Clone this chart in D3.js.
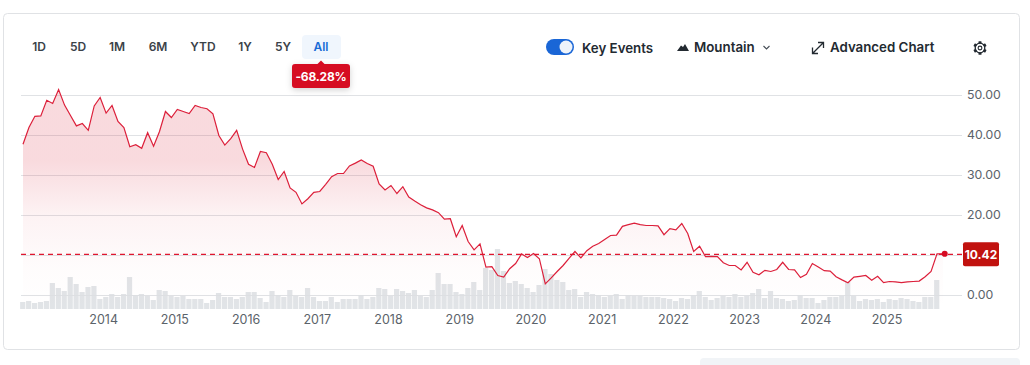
<!DOCTYPE html>
<html>
<head>
<meta charset="utf-8">
<script src="https://cdnjs.cloudflare.com/ajax/libs/d3/7.8.5/d3.min.js"></script>
<style>
  html, body { margin: 0; padding: 0; background: #fff; overflow: hidden; }
  svg { display: block; font-family: Inter, "Liberation Sans", sans-serif; }
</style>
</head>
<body>
<script>
// monthly closes
const closes = [
  37.8, 42, 44.8, 44.9, 48.8, 48, 51.5, 47.6, 45, 42.4,
  43, 41.3, 47.4, 49.5, 45.6, 47.5, 43.5, 42, 37.2, 37.7,
  36.8, 40.7, 37.3, 41, 46, 44.5, 46.5, 46, 45.5, 47.5,
  47, 46.7, 45.4, 40, 37.6, 39.2, 41.3, 36.6, 32.8, 32,
  36, 35.7, 32.8, 29, 31, 26.9, 25.8, 22.9, 24.2, 25.8,
  26, 27.8, 29.7, 30.5, 30.5, 32.4, 33.1, 33.9, 33, 32.3,
  27.9, 26.4, 27.5, 25.5, 27.2, 24.6, 23.6, 22.7, 21.9, 21.4,
  20.7, 19.1, 19.2, 14.7, 17.5, 13.5, 11.4, 12.9, 7.1, 7.2,
  5, 4.6, 6.7, 8, 10.4, 9.5, 10.5, 9.2, 2.9, 4.4,
  6, 7.5, 9.3, 11, 9.4, 11.2, 12.3, 13, 14, 15,
  15.1, 17.3, 17.7, 18.1, 17.7, 17.5, 17.5, 17.4, 15.2, 16.7,
  16.4, 18, 15.5, 11, 12.3, 9.7, 9.8, 9.7, 8.2, 7.5,
  7.5, 6.4, 8.3, 5.8, 5.2, 6.3, 6, 6.5, 8.3, 6.5,
  6.4, 4.5, 5.3, 8, 7.1, 6.2, 6.1, 4.7, 3.9, 3.2,
  4.6, 4.8, 5, 3.8, 4.8, 3.2, 3.5, 3.4, 3.2, 3.4,
  3.5, 3.6, 4.7, 6, 10.4, 10.42
];

const volumes = [
  7, 8, 6, 7, 8, 26, 21, 18, 32, 25,
  17, 22, 23, 10, 12, 15, 12, 15, 32, 14,
  15, 13, 9, 19, 18, 13, 12, 13, 10, 10,
  10, 6, 9, 16, 12, 12, 10, 12, 17, 17,
  11, 7, 18, 14, 12, 19, 13, 12, 21, 12,
  8, 8, 12, 7, 10, 10, 10, 14, 10, 12,
  21, 20, 13, 20, 18, 16, 19, 13, 12, 19,
  36, 25, 25, 17, 15, 21, 27, 19, 41, 39,
  60, 38, 26, 28, 25, 21, 17, 24, 40, 35,
  29, 27, 19, 20, 12, 17, 15, 14, 12, 13,
  15, 10, 14, 13, 13, 12, 12, 12, 11, 10,
  8, 11, 10, 14, 18, 12, 9, 11, 13, 12,
  15, 12, 13, 16, 20, 11, 18, 11, 10, 8,
  9, 14, 11, 11, 6, 9, 12, 12, 13, 27,
  13, 8, 10, 9, 10, 7, 10, 9, 11, 10,
  8, 7, 12, 12, 29
];

const priceTicks = [0, 10, 20, 30, 40, 50];
const priceLabels = [0, 20, 30, 40, 50]; // 10 sits behind the last price tag
const years = [2014, 2015, 2016, 2017, 2018, 2019, 2020, 2021, 2022, 2023, 2024, 2025];
const yearPos = [13.5, 25.5, 37.5, 49.5, 61.5, 73.5, 85.5, 97.5, 109.5, 121.5, 133.5, 145.5];
const ranges = ["1D", "5D", "1M", "6M", "YTD", "1Y", "5Y", "All"];
const rangeX = [39, 78, 117, 158, 203, 245, 283, 321];
const lastPrice = 10.42;
const lastPos = 155.3;
const change = "-68.28%";

const w = 1030;
const h = 365;

const x = d3.scaleLinear().domain([0, 154]).range([23, 937]);
const y = d3.scaleLinear().domain([0, 50]).range([295.5, 95.5]);
const yVol = d3.scaleLinear().domain([0, 60]).range([309, 249]);

const svg = d3.select("body").append("svg").attr("width", w).attr("height", h);

//card and the panel peeking in below it
svg.append("rect").attr("x", 3.5).attr("y", 13.5).attr("width", 1016).attr("height", 336)
  .attr("rx", 4).attr("fill", "#fff").attr("stroke", "#e0e2e5");
svg.append("rect").attr("x", 700).attr("y", 358).attr("width", 320).attr("height", 20)
  .attr("rx", 4).attr("fill", "#f1f4f7");

const defs = svg.append("defs");
const grad = defs.append("linearGradient").attr("id", "areaFill")
  .attr("gradientUnits", "userSpaceOnUse")
  .attr("x1", 0).attr("x2", 0).attr("y1", y(52)).attr("y2", yVol(0));
[[0, 0.15], [0.33, 0.15], [0.58, 0.05], [0.8, 0.015], [1, 0.0]].forEach((s) => {
  grad.append("stop").attr("offset", s[0]).attr("stop-color", "#d60a22").attr("stop-opacity", s[1]);
});
const blur = defs.append("filter").attr("id", "tagShadow")
  .attr("x", "-30%").attr("y", "-40%").attr("width", "160%").attr("height", "200%");
blur.append("feDropShadow").attr("dx", 0).attr("dy", 2).attr("stdDeviation", 3)
  .attr("flood-color", "#000").attr("flood-opacity", 0.18);

//grid lines
svg.append("g").selectAll("line").data(priceTicks).enter().append("line")
  .attr("x1", 21).attr("x2", 962)
  .attr("y1", (d) => Math.floor(y(d)) + 0.5)
  .attr("y2", (d) => Math.floor(y(d)) + 0.5)
  .attr("stroke", "#e0e2e5");

//volume
svg.append("g").selectAll("rect").data(volumes).enter().append("rect")
  .attr("x", (d, i) => x(i) - 2.9)
  .attr("width", 5.2)
  .attr("y", (d) => yVol(d))
  .attr("height", (d) => yVol(0) - yVol(d))
  .attr("fill", "#dcdfe3")
  .attr("opacity", 0.85);

//mountain
const area = d3.area().x((d, i) => x(i)).y0(yVol(0)).y1((d) => y(d));
const line = d3.line().x((d, i) => x(i)).y((d) => y(d));

svg.append("path").datum(closes).attr("d", area).attr("fill", "url(#areaFill)");
svg.append("path").datum(closes).attr("d", line)
  .attr("fill", "none").attr("stroke", "#dc1f3a").attr("stroke-width", 1.2);

//last price
svg.append("line")
  .attr("x1", 21).attr("x2", 962)
  .attr("y1", y(lastPrice) + 0.5).attr("y2", y(lastPrice) + 0.5)
  .attr("stroke", "#e0162f").attr("stroke-width", 1.2).attr("stroke-dasharray", "5,4");
svg.append("circle").attr("cx", x(lastPos)).attr("cy", y(lastPrice)).attr("r", 3).attr("fill", "#d60a22");
svg.append("rect").attr("x", 963).attr("y", y(lastPrice) - 11.5).attr("width", 36).attr("height", 24)
  .attr("rx", 2).attr("fill", "#c1120f");
svg.append("text").attr("x", 981).attr("y", y(lastPrice) + 0.5)
  .attr("text-anchor", "middle").attr("dominant-baseline", "central")
  .attr("font-size", 12).attr("font-weight", 700).attr("fill", "#fff")
  .text(lastPrice.toFixed(2));

//price labels
svg.append("g").selectAll("text").data(priceLabels).enter().append("text")
  .attr("x", 967).attr("y", (d) => y(d) - 1)
  .attr("dominant-baseline", "central")
  .attr("font-size", 12.3).attr("fill", "#5b636a")
  .text((d) => d.toFixed(2));

//year axis
const xAxis = d3.axisBottom(x).tickValues(yearPos)
  .tickFormat((d, i) => years[i]).tickSize(0).tickPadding(0);
const axisG = svg.append("g").attr("transform", "translate(0,315)").call(xAxis);
axisG.select(".domain").remove();
axisG.selectAll("text").attr("font-family", "Inter, sans-serif").attr("font-size", 12.5).attr("fill", "#5b636a");

//range buttons
svg.append("rect").attr("x", 302).attr("y", 35).attr("width", 39).attr("height", 24)
  .attr("rx", 4).attr("fill", "#f0f6fd");
svg.append("g").selectAll("text").data(ranges).enter().append("text")
  .attr("x", (d, i) => rangeX[i]).attr("y", 46.5)
  .attr("text-anchor", "middle").attr("dominant-baseline", "central")
  .attr("font-size", 12).attr("font-weight", 600)
  .attr("fill", (d) => (d === "All" ? "#1a6bd6" : "#3b4249"))
  .text((d) => d);

//change tag
const tag = svg.append("g");
tag.append("rect").attr("x", 292).attr("y", 64).attr("width", 58).attr("height", 24)
  .attr("rx", 3).attr("fill", "#d60a22").attr("filter", "url(#tagShadow)");
tag.append("path").attr("d", "M317,64.5L321,60.5L325,64.5Z").attr("fill", "#d60a22");
tag.append("text").attr("x", 321).attr("y", 76)
  .attr("text-anchor", "middle").attr("dominant-baseline", "central")
  .attr("font-size", 12).attr("font-weight", 700).attr("fill", "#fff")
  .attr("letter-spacing", -0.2).text(change);

//right hand controls
svg.append("rect").attr("x", 546).attr("y", 39).attr("width", 28).attr("height", 16)
  .attr("rx", 8).attr("fill", "#1a66d6");
svg.append("circle").attr("cx", 566).attr("cy", 47).attr("r", 6.5).attr("fill", "#eef3fa");

const labelStyle = (sel) => sel.attr("dominant-baseline", "central")
  .attr("font-size", 13.3).attr("font-weight", 600).attr("fill", "#232a31");
svg.append("text").attr("x", 582).attr("y", 48).call(labelStyle).text("Key Events");
svg.append("text").attr("x", 694).attr("y", 47).call(labelStyle).text("Mountain");
svg.append("text").attr("x", 830).attr("y", 47).call(labelStyle).text("Advanced Chart");

//mountain icon
svg.append("path").attr("d", "M677,51L681,45.5L683,47L685,44L689,51Z").attr("fill", "#232a31");
//chevron
svg.append("path").attr("d", "M763.5,46L766.5,49L769.5,46")
  .attr("fill", "none").attr("stroke", "#464e56").attr("stroke-width", 1.1);
//expand arrows
svg.append("path").attr("d", "M813,53L823,43M818,42.5H823.5V48M812.5,47.5V53.5H818")
  .attr("fill", "none").attr("stroke", "#232a31").attr("stroke-width", 1.3);

//gear
const gearAngles = d3.range(0, 360, 60);
const gear = svg.append("g").attr("transform", "translate(980,48)");
gear.selectAll("rect").data(gearAngles).enter().append("rect")
  .attr("x", -1.5).attr("y", -6.8).attr("width", 3).attr("height", 2.6).attr("rx", 0.6)
  .attr("fill", "#232a31").attr("transform", (d) => "rotate(" + d + ")");
gear.append("circle").attr("r", 4.8).attr("fill", "none").attr("stroke", "#232a31").attr("stroke-width", 1.3);
gear.append("circle").attr("r", 1.9).attr("fill", "none").attr("stroke", "#232a31").attr("stroke-width", 1.1);
</script>
</body>
</html>
